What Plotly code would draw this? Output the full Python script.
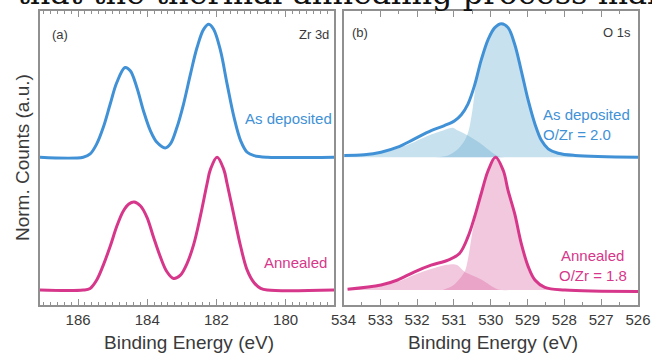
import plotly.graph_objects as go

# ---------------- data ----------------
# Panel (a): Zr 3d, binding energy (eV) and normalised counts (offset stacks)
zr_dep_E = [187.1, 185.85, 185.65, 185.46, 185.27, 185.07, 184.88, 184.64, 184.49, 184.30,
            184.11, 183.91, 183.72, 183.48, 183.33, 183.14, 182.95, 182.75, 182.56, 182.37,
            182.22, 182.08, 181.88, 181.69, 181.49, 181.30, 181.11, 180.91, 180.53, 178.6]
zr_dep_I = [1.0, 1.0, 1.025, 1.10, 1.225, 1.40, 1.562, 1.675, 1.65, 1.525,
            1.35, 1.20, 1.112, 1.07, 1.10, 1.225, 1.40, 1.625, 1.825, 1.962,
            2.0, 1.962, 1.80, 1.55, 1.30, 1.125, 1.037, 1.012, 1.0, 1.0]

zr_ann_E = [187.1, 185.85, 185.65, 185.46, 185.27, 185.07, 184.88, 184.69, 184.53, 184.38,
            184.20, 184.01, 183.82, 183.62, 183.43, 183.24, 183.04, 182.85, 182.66, 182.46,
            182.27, 182.17, 181.98, 181.79, 181.69, 181.50, 181.30, 181.11, 180.91, 180.72,
            180.53, 178.6]
zr_ann_I = [0.0, 0.0, 0.013, 0.076, 0.188, 0.33, 0.48, 0.595, 0.648, 0.663,
            0.635, 0.55, 0.40, 0.25, 0.138, 0.088, 0.113, 0.20, 0.34, 0.56,
            0.80, 0.91, 1.0, 0.91, 0.80, 0.57, 0.33, 0.15, 0.055, 0.013,
            0.0, 0.0]

# Panel (b): O 1s totals
o_dep_E = [533.98, 533.44, 532.98, 532.53, 532.07, 531.62, 531.26, 530.98, 530.80, 530.62,
           530.44, 530.26, 530.07, 529.89, 529.71, 529.53, 529.35, 529.17, 528.98, 528.80,
           528.62, 528.44, 528.17, 527.71, 526.0]
o_dep_I = [1.013, 1.018, 1.037, 1.075, 1.138, 1.20, 1.238, 1.275, 1.32, 1.40,
           1.54, 1.73, 1.887, 1.975, 2.005, 1.975, 1.85, 1.65, 1.425, 1.25,
           1.125, 1.063, 1.03, 1.013, 1.0]

o_ann_E = [533.89, 532.98, 532.53, 532.07, 531.62, 531.16, 530.85, 530.62, 530.44, 530.26,
           530.07, 529.87, 529.66, 529.53, 529.35, 529.17, 528.98, 528.80, 528.53, 527.99, 526.0]
o_ann_I = [0.006, 0.038, 0.076, 0.138, 0.188, 0.226, 0.276, 0.40, 0.55, 0.725,
           0.90, 1.0, 0.90, 0.75, 0.575, 0.35, 0.175, 0.076, 0.021, 0.0, -0.01]

# Panel (b): fitted components
dep_main_E = [531.5, 531.16, 530.9, 530.7, 530.6, 530.5, 530.4, 530.26, 530.07, 529.89,
              529.71, 529.53, 529.35, 529.17, 528.98, 528.80, 528.62, 528.44, 528.17, 527.71, 527.0]
dep_main_I = [1.0, 1.013, 1.06, 1.13, 1.2, 1.35, 1.55, 1.71, 1.875, 1.965,
              1.995, 1.965, 1.84, 1.64, 1.415, 1.24, 1.12, 1.058, 1.025, 1.01, 1.0]
dep_sh_E = [534.0, 533.44, 532.98, 532.53, 532.07, 531.62, 531.26, 531.03, 530.89, 530.62,
            530.26, 529.80, 529.5]
dep_sh_I = [1.005, 1.012, 1.03, 1.065, 1.115, 1.17, 1.205, 1.222, 1.20, 1.163,
            1.10, 1.008, 1.0]

ann_main_E = [531.3, 531.0, 530.71, 530.6, 530.48, 530.26, 530.07, 529.87, 529.66, 529.53,
              529.35, 529.17, 528.98, 528.80, 528.53, 528.0]
ann_main_I = [0.0, 0.04, 0.138, 0.263, 0.463, 0.70, 0.885, 0.985, 0.89, 0.74,
              0.565, 0.34, 0.17, 0.07, 0.018, 0.0]
ann_sh_E = [533.9, 533.0, 532.5, 532.07, 531.6, 531.2, 531.0, 530.89, 530.71, 530.26, 529.8, 529.5]
ann_sh_I = [0.003, 0.03, 0.065, 0.115, 0.16, 0.19, 0.195, 0.185, 0.138, 0.08, 0.005, 0.0]

dep_base = 1.0
ann_base = 0.0

zr_ticks = [186, 184, 182, 180]
o_ticks = [534, 533, 532, 531, 530, 529, 528, 527, 526]

# ---------------- styling ----------------
W, H = 652, 353
BLUE = "#4191d6"
PINK = "#d6378a"
BLUE_FILL = "rgba(98,169,206,0.35)"
PINK_FILL = "rgba(218,98,161,0.35)"
FRAME = "#909090"
TXT = "#3a3a3a"
FONT = "Liberation Sans, Arial, sans-serif"


def px(x):
    return x / W


def py(y):
    return 1 - y / H


fig = go.Figure()

# panel (a)
fig.add_trace(go.Scatter(x=zr_dep_E, y=zr_dep_I, mode="lines", line=dict(color=BLUE, width=3, shape="spline", smoothing=1.0),
                         xaxis="x", yaxis="y", hoverinfo="skip"))
fig.add_trace(go.Scatter(x=zr_ann_E, y=zr_ann_I, mode="lines", line=dict(color=PINK, width=3, shape="spline", smoothing=1.0),
                         xaxis="x", yaxis="y", hoverinfo="skip"))


def add_component(E, I, base, fill):
    fig.add_trace(go.Scatter(x=E, y=[base] * len(E), mode="lines", line=dict(width=0, color="rgba(0,0,0,0)"),
                             xaxis="x2", yaxis="y2", hoverinfo="skip"))
    fig.add_trace(go.Scatter(x=E, y=I, mode="lines", fill="tonexty", fillcolor=fill,
                             line=dict(width=0, color="rgba(0,0,0,0)", shape="spline", smoothing=0.8),
                             xaxis="x2", yaxis="y2", hoverinfo="skip"))


add_component(dep_sh_E, dep_sh_I, dep_base, BLUE_FILL)
add_component(dep_main_E, dep_main_I, dep_base, BLUE_FILL)
add_component(ann_sh_E, ann_sh_I, ann_base, PINK_FILL)
add_component(ann_main_E, ann_main_I, ann_base, PINK_FILL)

fig.add_trace(go.Scatter(x=o_dep_E, y=o_dep_I, mode="lines", line=dict(color=BLUE, width=3, shape="spline", smoothing=1.0),
                         xaxis="x2", yaxis="y2", hoverinfo="skip"))
fig.add_trace(go.Scatter(x=o_ann_E, y=o_ann_I, mode="lines", line=dict(color=PINK, width=3, shape="spline", smoothing=1.0),
                         xaxis="x2", yaxis="y2", hoverinfo="skip"))

YR = [-0.112, 2.10]
axis_common = dict(showline=True, linecolor=FRAME, linewidth=1.5, mirror="ticks", showgrid=False, zeroline=False,
                   ticks="inside", tickcolor=FRAME, ticklen=6, tickwidth=1.2, automargin=False,
                   tickfont=dict(size=15, color=TXT, family=FONT))
yaxis_common = dict(range=YR, showticklabels=False, ticks="", showline=True, mirror=True, automargin=False,
                    linecolor=FRAME, linewidth=1.5, showgrid=False, zeroline=False, domain=[py(305), py(11)])

fig.update_layout(
    width=W, height=H,
    margin=dict(l=0, r=0, t=0, b=0, pad=0),
    paper_bgcolor="white", plot_bgcolor="white",
    showlegend=False,
    font=dict(family=FONT, color=TXT),
    xaxis=dict(domain=[px(40), px(334)], range=[187.1, 178.6], tickvals=zr_ticks, anchor="y",
               minor=dict(dtick=0.2, tick0=180, ticks="inside", ticklen=3, tickcolor=FRAME, showgrid=False),
               **axis_common),
    xaxis2=dict(domain=[px(343.5), px(638)], range=[534, 526], tickvals=o_ticks, anchor="y2",
                minor=dict(dtick=0.5, tick0=526, ticks="inside", ticklen=3, tickcolor=FRAME, showgrid=False),
                **axis_common),
    yaxis=dict(anchor="x", **yaxis_common),
    yaxis2=dict(anchor="x2", **yaxis_common),
)


def note(text, x, y, color=TXT, size=15, xanchor="center", angle=0):
    fig.add_annotation(text=text, x=px(x), y=py(y), xref="paper", yref="paper", showarrow=False,
                       xanchor=xanchor, yanchor="middle", textangle=angle,
                       font=dict(size=size, color=color, family=FONT))


# axis titles
note("Binding Energy (eV)", 189, 342, size=19)
note("Binding Energy (eV)", 493, 342, size=19)
note("Norm. Counts (a.u.)", 22, 158, size=19, angle=-90)

note("(a)", 60, 34, size=13)
note("Zr 3d", 331, 34, size=13, xanchor="right")
note("(b)", 360, 33, size=13)
note("O 1s", 633, 33, size=13, xanchor="right")
note("As deposited", 334, 118, color=BLUE, xanchor="right")
note("Annealed", 329, 262, color=PINK, xanchor="right")
note("As deposited", 541, 115, color=BLUE, xanchor="left")
note("O/Zr = 2.0", 541, 134, color=BLUE, xanchor="left")
note("Annealed", 626, 255, color=PINK, xanchor="right")
note("O/Zr = 1.8", 629, 275, color=PINK, xanchor="right")

# clipped line of running text above the figure
fig.add_annotation(text="that the thermal annealing process make", x=px(15), y=py(-7), xref="paper", yref="paper",
                   showarrow=False, xanchor="left", yanchor="middle",
                   font=dict(size=32, color="#111", family="DejaVu Serif, serif"))

fig.write_html("out.html", config={"displayModeBar": False},
               post_script="document.body.style.margin='0';document.body.style.overflow='hidden';")
